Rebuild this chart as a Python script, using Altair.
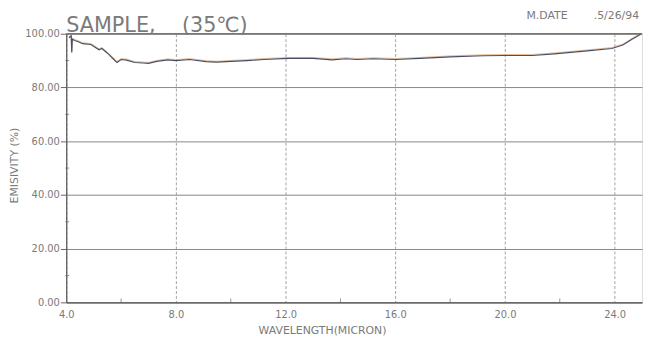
import altair as alt
import pandas as pd

wavelength = [4.1, 4.18, 4.2, 4.22, 4.3, 4.4, 4.6, 4.9, 5.05, 5.2, 5.3, 5.45, 5.55, 5.7,
              5.85, 6.0, 6.2, 6.5, 6.8, 7.0, 7.3, 7.7, 8.0, 8.5, 9.1, 9.5, 10.0, 10.6,
              11.2, 12.1, 13.0, 13.7, 14.2, 14.6, 15.2, 16.0, 16.9, 18.0, 19.2, 20.0,
              21.0, 21.8, 23.0, 23.9, 24.3, 24.65, 24.95]
emissivity = [98.5, 99.2, 93.0, 98.0, 97.5, 97.2, 96.3, 96.0, 95.0, 94.0, 94.5, 93.2, 92.3,
              90.8, 89.3, 90.4, 90.2, 89.3, 89.1, 89.0, 89.7, 90.3, 90.0, 90.4, 89.6, 89.4,
              89.7, 90.0, 90.4, 90.8, 90.8, 90.3, 90.7, 90.4, 90.7, 90.4, 90.8, 91.4, 91.8,
              91.9, 91.9, 92.5, 93.6, 94.5, 95.8, 98.0, 99.8]
x_ticks = [4, 8, 12, 16, 20, 24]
y_ticks = [0, 20, 40, 60, 80, 100]
x_minor = [6, 10, 14, 18, 22]
y_minor = [10, 30, 50, 70, 90]

FONT = "DejaVu Sans"
GRAY = "#7a7a7a"

df = pd.DataFrame({"wl": wavelength, "e": emissivity, "i": range(len(wavelength))})

xs = alt.Scale(domain=[4, 25], nice=False, zero=False)
ys = alt.Scale(domain=[0, 100], nice=False)

x_axis = alt.Axis(values=x_ticks, format=".1f", title="WAVELENGTH(MICRON)",
                  labelFont=FONT, labelFontSize=10, labelColor=GRAY, labelPadding=7,
                  labelFlush=False,
                  tickSize=0, domainColor="#555", domainWidth=1.2,
                  grid=True, gridColor="#a3a3a3", gridDash=[3, 2], gridWidth=1,
                  titleFont=FONT, titleFontSize=11, titleFontWeight="normal", titleColor=GRAY,
                  titleX=259, titleY=32, titleBaseline="alphabetic", titleAlign="center")
y_axis = alt.Axis(values=y_ticks, format=".2f", title="EMISIVITY (%)",
                  labelFont=FONT, labelFontSize=10, labelColor=GRAY, labelPadding=1,
                  labelFlush=False,
                  tickSize=6, tickColor="#666", domainColor="#555", domainWidth=1.2,
                  grid=True, gridColor="#8c857f", gridWidth=1,
                  titleFont=FONT, titleFontSize=11, titleFontWeight="normal", titleColor=GRAY,
                  titleX=-52, titleY=133, titleAngle=270, titleAlign="center",
                  titleBaseline="middle")

base = alt.Chart(df)
fringe = base.mark_line(color="#d9a070", strokeWidth=1, yOffset=-1, opacity=0.7).encode(
    x=alt.X("wl:Q", scale=xs, axis=x_axis),
    y=alt.Y("e:Q", scale=ys, axis=y_axis),
    order="i:Q",
)
curve = base.mark_line(color="#4a4e63", strokeWidth=1.2).encode(
    x=alt.X("wl:Q", scale=xs),
    y=alt.Y("e:Q", scale=ys),
    order="i:Q",
)
top = alt.Chart(pd.DataFrame({"v": [100]})).mark_rule(color="#555", strokeWidth=1.2).encode(
    y=alt.Y("v:Q", scale=ys))
ymin = alt.Chart(pd.DataFrame({"v": y_minor})).mark_tick(
    color="#666", size=4, thickness=1, orient="horizontal").encode(
    y=alt.Y("v:Q", scale=ys), x=alt.value(1))
xmin = alt.Chart(pd.DataFrame({"v": x_minor})).mark_tick(
    color="#666", size=4, thickness=1, orient="vertical").encode(
    x=alt.X("v:Q", scale=xs), y=alt.value(270))

title = alt.Chart(pd.DataFrame({"t": ["SAMPLE,\u00a0\u00a0\u00a0\u00a0(35\u2103)"]})).mark_text(
    font=FONT, fontSize=21, color=GRAY, align="left", baseline="alphabetic").encode(
    text="t:N", x=alt.value(0), y=alt.value(-2))
mdate = alt.Chart(pd.DataFrame({"t": ["M.DATE"]})).mark_text(
    font=FONT, fontSize=11, color=GRAY, align="left", baseline="alphabetic").encode(
    text="t:N", x=alt.value(466), y=alt.value(-15))
snum = alt.Chart(pd.DataFrame({"t": ["S.NUMBER :2"]})).mark_text(
    font=FONT, fontSize=11, color=GRAY, align="left", baseline="alphabetic").encode(
    text="t:N", x=alt.value(466), y=alt.value(-26))
date = alt.Chart(pd.DataFrame({"t": [".5/26/94"]})).mark_text(
    font=FONT, fontSize=11, color=GRAY, align="right", baseline="alphabetic").encode(
    text="t:N", x=alt.value(580), y=alt.value(-15))

chart = alt.layer(fringe, curve, top, ymin, xmin, title, mdate, snum, date).properties(
    width=583, height=272,
    autosize=alt.AutoSizeParams(type="none"),
    padding={"left": 59, "top": 24, "right": 2, "bottom": 32},
).configure_view(stroke=None).configure(background="white")

chart.save("out.html", embed_options={"renderer": "svg", "actions": False})
